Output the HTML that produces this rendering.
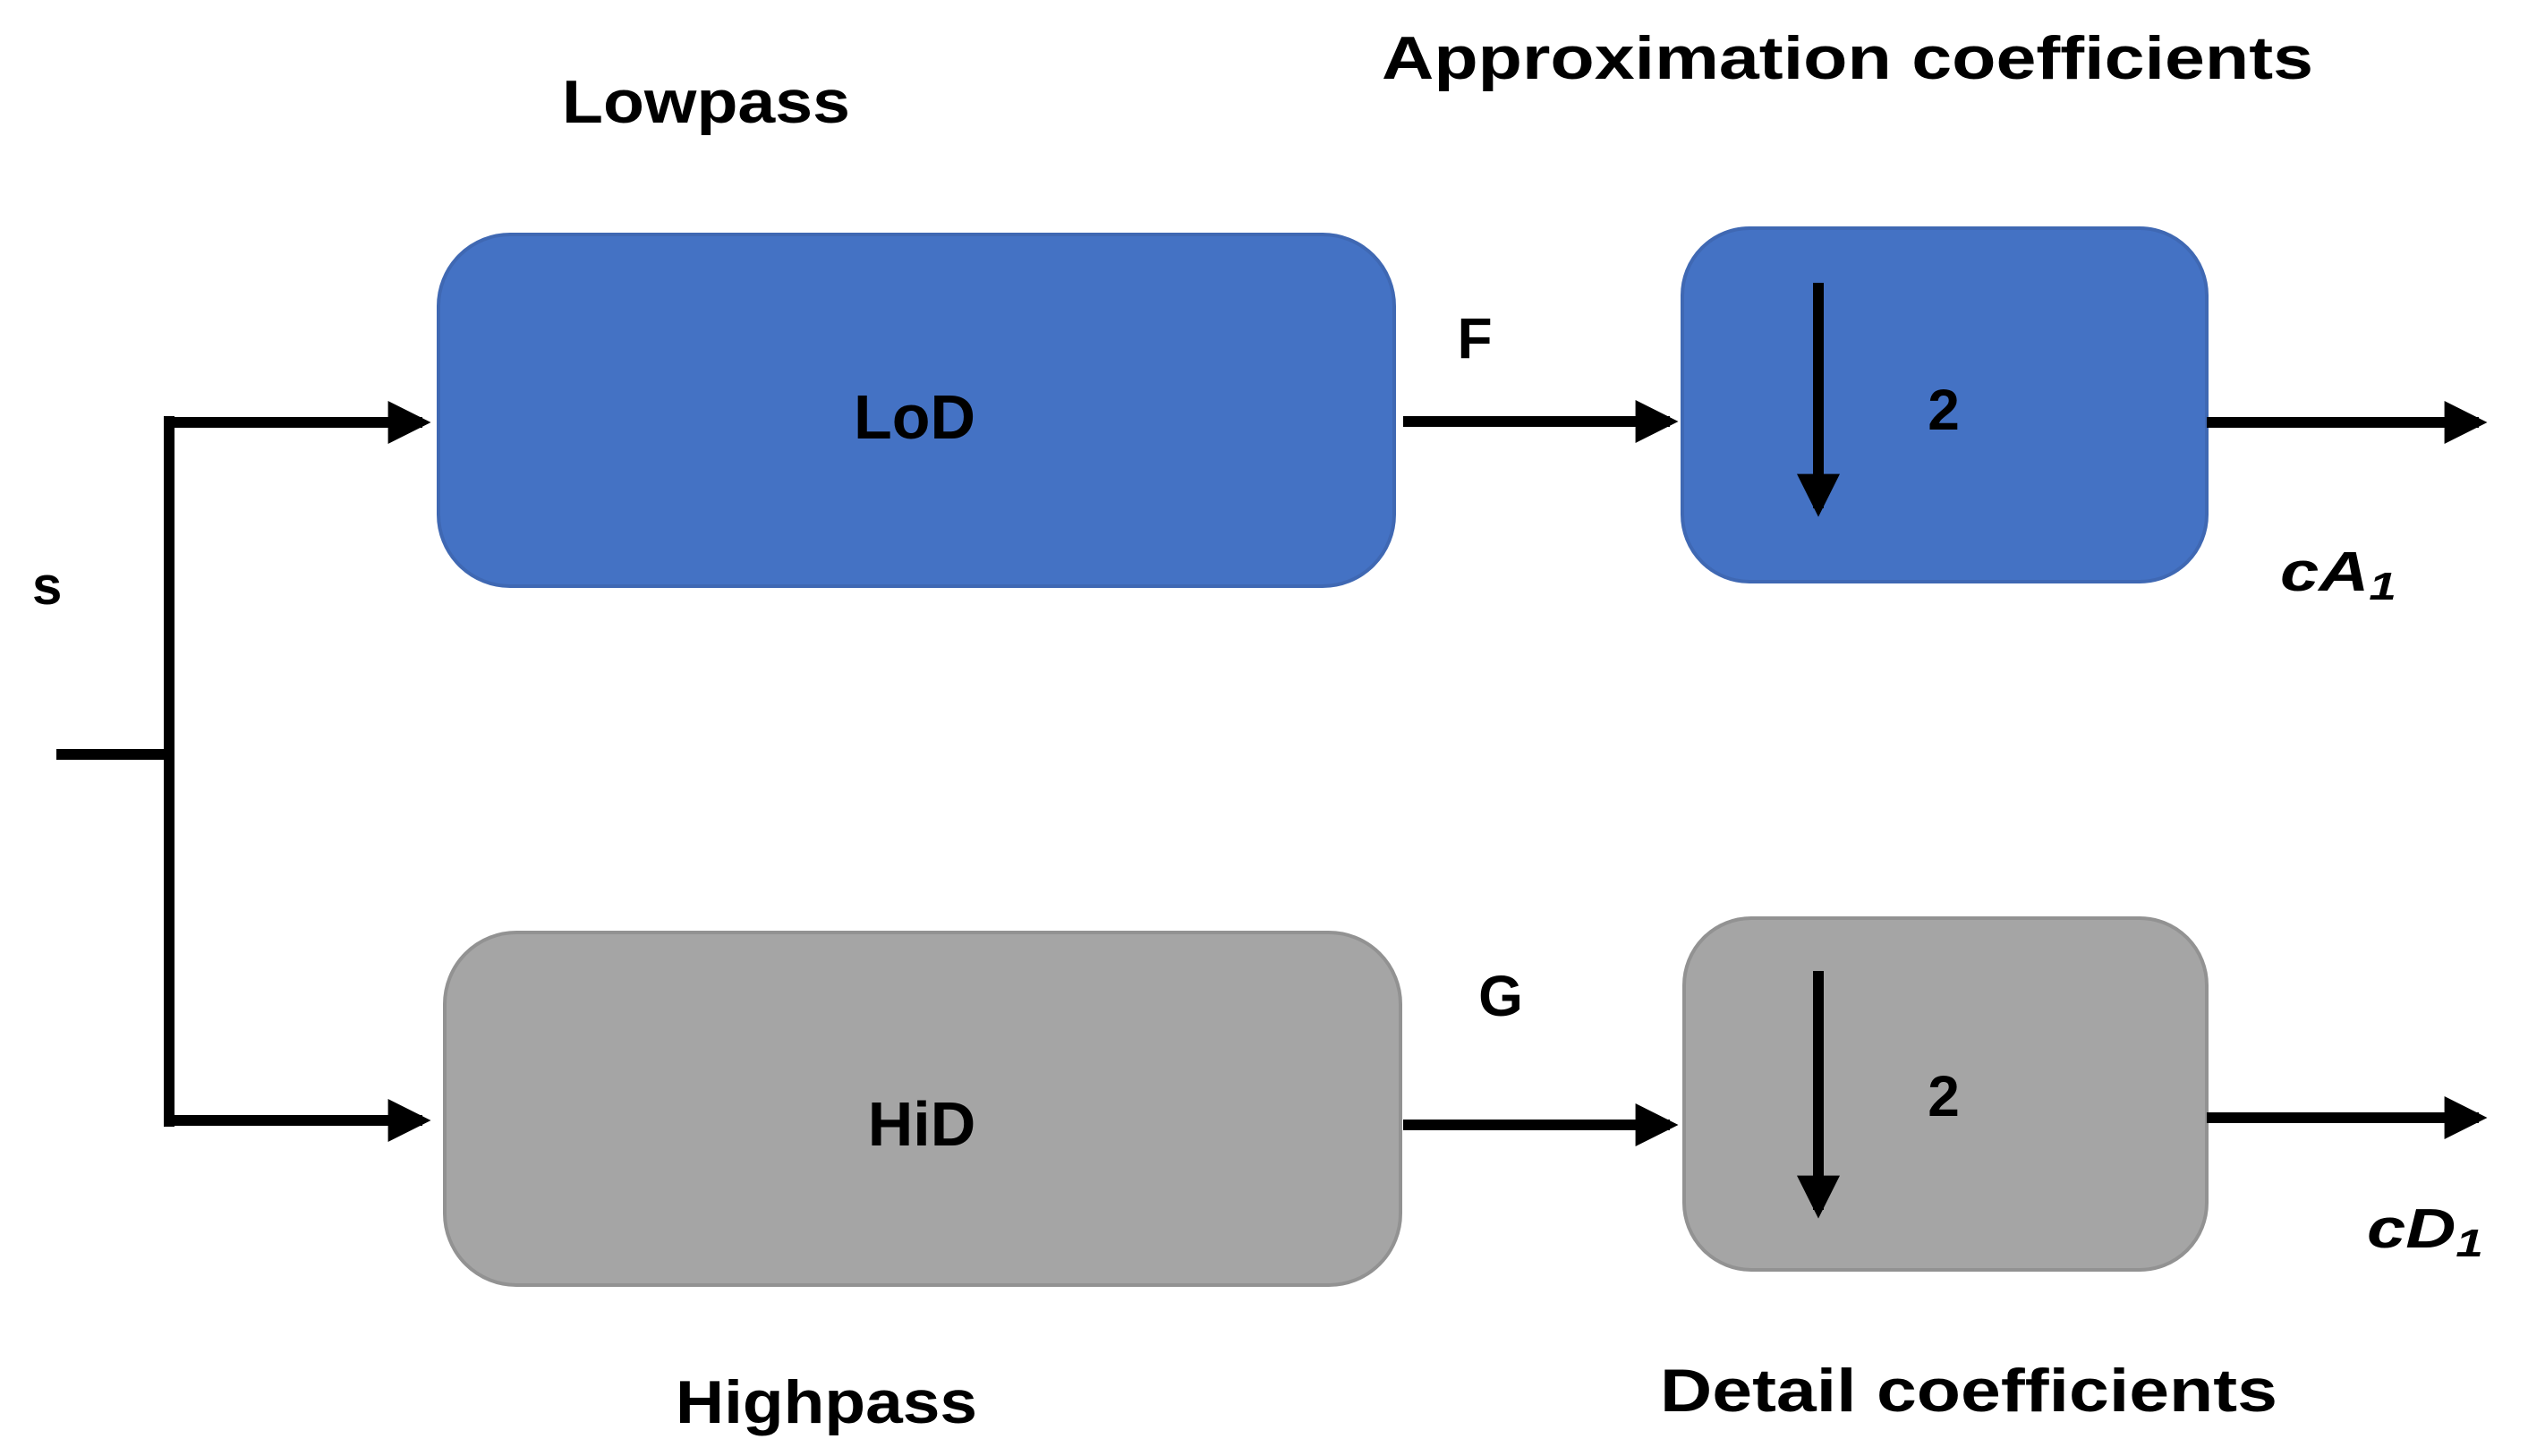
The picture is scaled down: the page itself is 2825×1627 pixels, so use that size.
<!DOCTYPE html>
<html><head><meta charset="utf-8"><style>
html,body{margin:0;padding:0;background:#fff;}
svg{display:block;}
text{font-family:"Liberation Sans",sans-serif;font-weight:bold;fill:#000;}
</style></head><body>
<svg width="2825" height="1627" viewBox="0 0 2825 1627" xmlns="http://www.w3.org/2000/svg">
<defs>
<marker id="ah" markerWidth="4" markerHeight="4" refX="3.2" refY="2" orient="auto" markerUnits="strokeWidth">
<path d="M0,0 L4,2 L0,4 z" fill="#000"/></marker>
</defs>
<text x="628" y="137" font-size="68" textLength="322" lengthAdjust="spacingAndGlyphs">Lowpass</text>
<text x="1544" y="88" font-size="68" textLength="1041" lengthAdjust="spacingAndGlyphs">Approximation coefficients</text>
<text x="755" y="1590" font-size="68" textLength="337" lengthAdjust="spacingAndGlyphs">Highpass</text>
<text x="1855" y="1577" font-size="68" textLength="690" lengthAdjust="spacingAndGlyphs">Detail coefficients</text>
<rect x="490" y="262" width="1068" height="393" rx="80" fill="#4472C4" stroke="#3f68b3" stroke-width="4"/>
<rect x="497" y="1042" width="1068" height="394" rx="80" fill="#A5A5A5" stroke="#929292" stroke-width="4"/>
<rect x="1880" y="255" width="586" height="395" rx="75" fill="#4472C4" stroke="#3f68b3" stroke-width="4"/>
<rect x="1882" y="1026" width="584" height="393" rx="75" fill="#A5A5A5" stroke="#929292" stroke-width="4"/>
<text x="1022" y="490" font-size="70" text-anchor="middle">LoD</text>
<text x="1030" y="1280" font-size="70" text-anchor="middle">HiD</text>
<text x="2172" y="480" font-size="64" text-anchor="middle">2</text>
<text x="2172" y="1247" font-size="64" text-anchor="middle">2</text>
<g stroke="#000" stroke-width="12" fill="none">
<line x1="63" y1="843" x2="189" y2="843"/>
<polyline points="189,1259 189,465"/>
<line x1="183" y1="472" x2="472" y2="472" marker-end="url(#ah)"/>
<line x1="183" y1="1252" x2="472" y2="1252" marker-end="url(#ah)"/>
<line x1="1568" y1="471" x2="1866" y2="471" marker-end="url(#ah)"/>
<line x1="1568" y1="1257" x2="1866" y2="1257" marker-end="url(#ah)"/>
<line x1="2466" y1="472" x2="2770" y2="472" marker-end="url(#ah)"/>
<line x1="2466" y1="1249" x2="2770" y2="1249" marker-end="url(#ah)"/>
<line x1="2032" y1="316" x2="2032" y2="568" marker-end="url(#ah)"/>
<line x1="2032" y1="1085" x2="2032" y2="1352" marker-end="url(#ah)"/>
</g>
<text x="36" y="675" font-size="60">s</text>
<text x="1648" y="400" font-size="64" text-anchor="middle">F</text>
<text x="1677" y="1135" font-size="64" text-anchor="middle">G</text>
<text x="2548" y="660" font-size="62" font-style="italic" textLength="130" lengthAdjust="spacingAndGlyphs">cA<tspan font-size="44" dy="10">1</tspan></text>
<text x="2645" y="1394" font-size="62" font-style="italic" textLength="130" lengthAdjust="spacingAndGlyphs">cD<tspan font-size="44" dy="10">1</tspan></text>
</svg>
</body></html>
